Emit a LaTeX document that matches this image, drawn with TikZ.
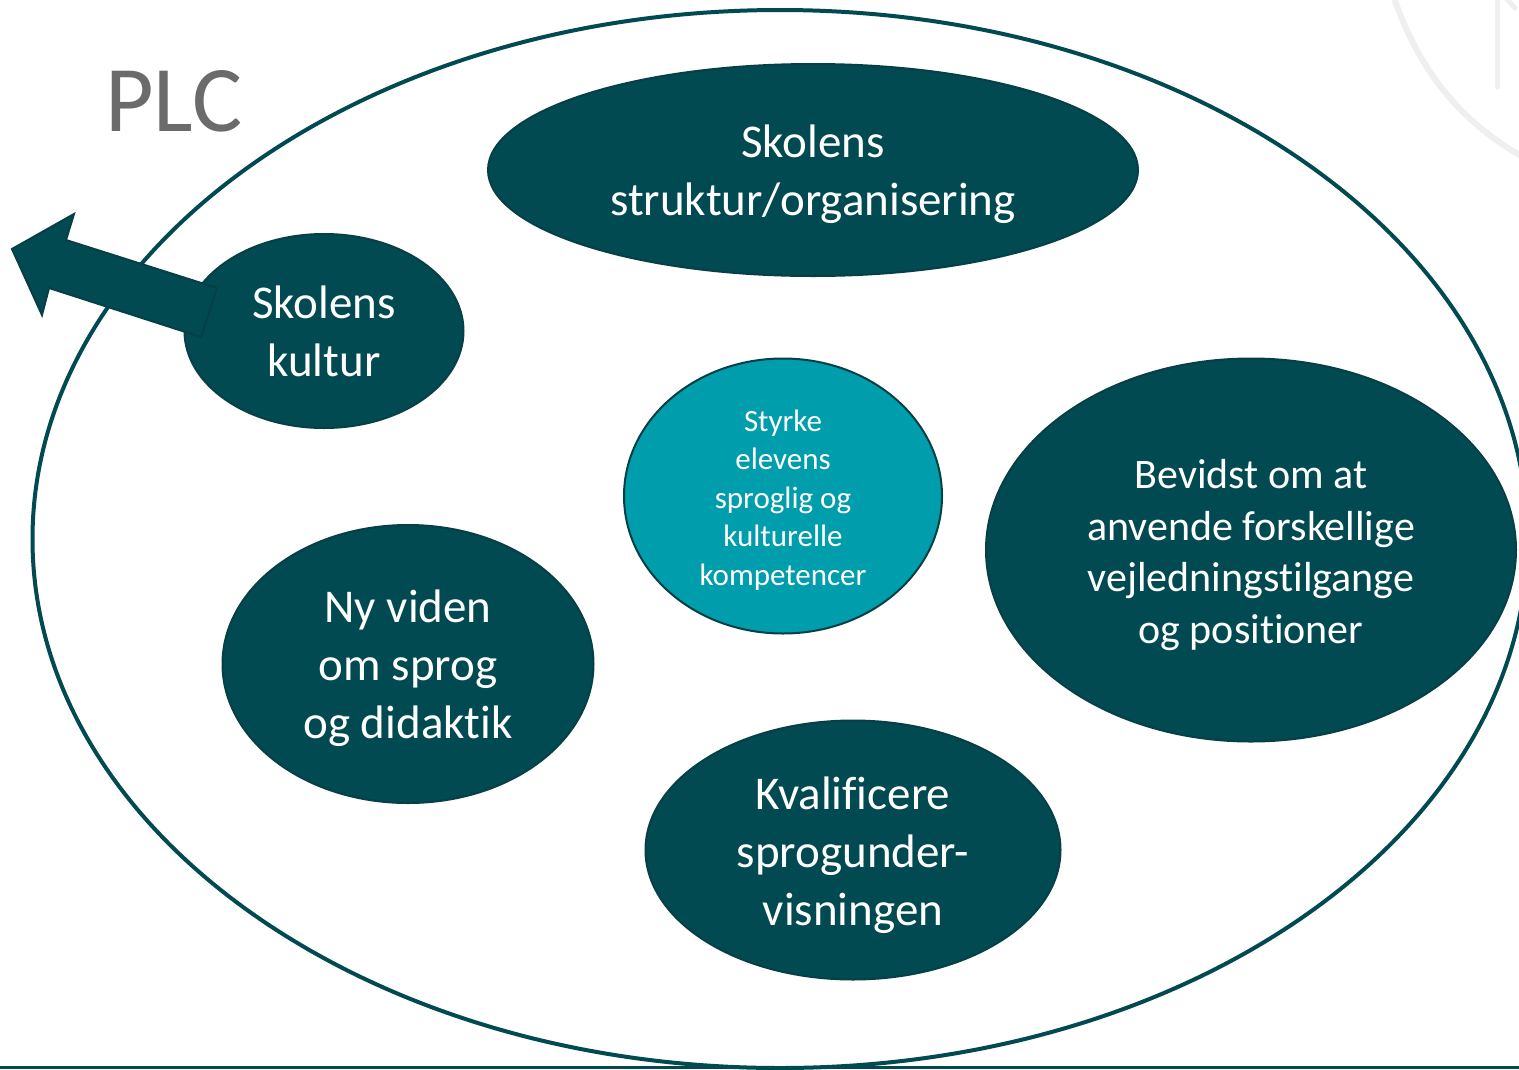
\documentclass[tikz,border=0pt]{standalone}
\usepackage{fontspec}
\setmainfont{Carlito}[Ligatures=NoCommon]
\usetikzlibrary{shapes.geometric}
\definecolor{darkteal}{HTML}{024A51}
\definecolor{edgeteal}{HTML}{063F46}
\definecolor{midteal}{HTML}{009DAC}
\definecolor{plcgray}{HTML}{6B6B6B}
\definecolor{faint}{HTML}{EFEFEF}
\tikzset{
  blob/.style={ellipse, inner sep=0pt, fill=darkteal, draw=edgeteal, line width=2pt},
  txt/.style={text=white, align=center, inner sep=0pt},
  bigtext/.style={font=\fontsize{47}{58}\selectfont},
}
\begin{document}
\begin{tikzpicture}[x=1pt,y=-1pt]
\useasboundingbox (0,0) rectangle (1519,1069);
\clip (0,0) rectangle (1519,1069);
\fill[white] (0,0) rectangle (1519,1069);
% faint decoration top right
\draw[faint, line width=6pt, line cap=round] (1393,-5) .. controls (1420,75) and (1465,125) .. (1525,158);
\draw[faint, line width=5pt, line cap=round] (1497,-5) -- (1497,87);
\draw[faint, line width=5pt, line cap=round] (1503,-5) -- (1515,8);
% outer ellipse
\node[ellipse, draw=darkteal, line width=4pt, minimum width=1495pt, minimum height=1058pt, inner sep=0pt] (outer) at (780,539) {};
% bottom line
\draw[darkteal, line width=2.5pt] (0,1067.5) -- (1519,1067.5);
% PLC
\node[text=plcgray, font=\fontsize{94}{100}\selectfont, anchor=base west, inner sep=0pt] (plc) at (105,131) {PLC};
% ellipses
\node[blob, minimum width=650pt, minimum height=212pt] (struktur) at (813,170) {};
\node[txt, bigtext] (strukturtext) at (813,174) {Skolens\\struktur/organisering};
\node[blob, minimum width=279pt, minimum height=194pt] (kultur) at (324,331) {};
\node[txt, bigtext] (kulturtext) at (324,331) {Skolens\\kultur};
\node[blob, fill=midteal, minimum width=318pt, minimum height=275pt] (styrke) at (783,496) {};
\node[txt, font=\fontsize{31}{38.5}\selectfont] (styrketext) at (783,500) {Styrke\\elevens\\sproglig og\\kulturelle\\kompetencer};
\node[blob, minimum width=530pt, minimum height=383pt] (bevidst) at (1251,550) {};
\node[txt, font=\fontsize{42}{51.5}\selectfont] (bevidsttext) at (1251,555) {Bevidst om at\\anvende forskellige\\vejledningstilgange\\og positioner};
\node[blob, minimum width=371pt, minimum height=278pt] (viden) at (408,664) {};
\node[txt, bigtext] (videntext) at (408,668) {Ny viden\\om sprog\\og didaktik};
\node[blob, minimum width=415pt, minimum height=259pt] (kval) at (853,850) {};
\node[txt, bigtext] (kvaltext) at (853,855) {Kvalificere\\sprogunder-\\visningen};
% block arrow
\draw[fill=darkteal, draw=edgeteal, line width=2pt, line join=miter]
  (12,249) -- (74,214) -- (66,240) -- (217,288) -- (201,337) -- (49,288) -- (42,315) -- cycle;
\end{tikzpicture}
\end{document}
